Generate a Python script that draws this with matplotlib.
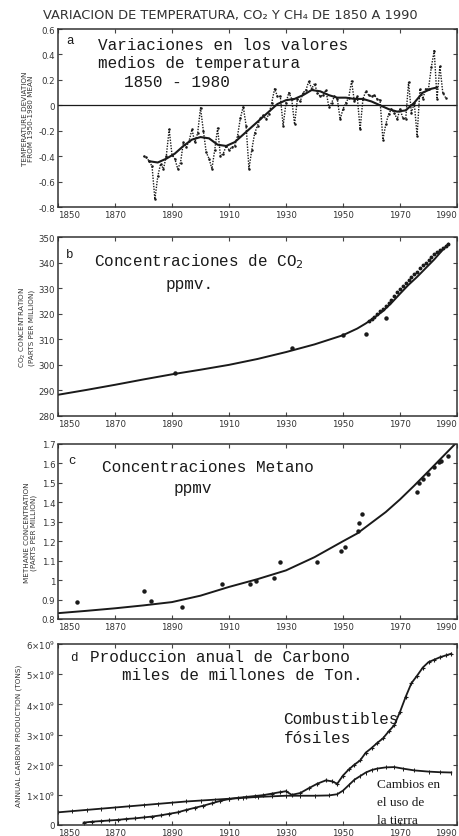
import matplotlib
matplotlib.use("Agg")
import matplotlib.pyplot as plt

# ---------------- data ----------------
years_ticks = [1850, 1870, 1890, 1910, 1930, 1950, 1970, 1990]

# (a) temperature deviation, annual
temp_years = list(range(1880, 1987))
temp_vals = [-0.40, -0.41, -0.44, -0.48, -0.74, -0.56, -0.46, -0.50, -0.40, -0.19,
             -0.39, -0.42, -0.50, -0.45, -0.29, -0.33, -0.28, -0.19, -0.29, -0.22,
             -0.02, -0.20, -0.37, -0.42, -0.50, -0.35, -0.18, -0.40, -0.38, -0.32,
             -0.35, -0.33, -0.32, -0.24, -0.10, -0.01, -0.16, -0.50, -0.35, -0.22,
             -0.16, -0.10, -0.08, -0.11, -0.07, 0.02, 0.13, 0.07, 0.07, -0.16,
             0.02, 0.10, 0.05, -0.15, 0.05, 0.03, 0.10, 0.12, 0.19, 0.13,
             0.17, 0.10, 0.07, 0.08, 0.12, -0.01, 0.02, 0.07, 0.05, -0.11,
             -0.03, 0.02, 0.06, 0.19, 0.03, 0.07, -0.19, 0.05, 0.11, 0.08,
             0.07, 0.08, 0.05, 0.04, -0.27, -0.15, -0.07, -0.03, -0.06, -0.11,
             -0.03, -0.10, -0.11, 0.18, -0.06, 0.02, -0.24, 0.13, 0.05, 0.13,
             0.13, 0.30, 0.43, 0.05, 0.31, 0.10, 0.06]
smooth_years = [1882, 1885, 1888, 1891, 1894, 1897, 1900, 1903, 1906, 1909, 1912, 1915,
                1918, 1921, 1924, 1927, 1930, 1933, 1936, 1939, 1942, 1945, 1948, 1951,
                1954, 1957, 1960, 1963, 1966, 1969, 1972, 1975, 1978, 1981, 1983]
smooth_vals = [-0.44, -0.45, -0.42, -0.38, -0.32, -0.27, -0.25, -0.26, -0.31, -0.32,
               -0.29, -0.23, -0.17, -0.11, -0.05, 0.01, 0.04, 0.05, 0.08, 0.12,
               0.11, 0.08, 0.06, 0.06, 0.05, 0.05, 0.03, 0.00, -0.03, -0.05,
               -0.04, 0.02, 0.10, 0.13, 0.14]

# (b) CO2 concentration (ppmv)
co2_curve_years = [1850, 1860, 1870, 1880, 1890, 1900, 1910, 1920, 1930, 1940, 1945,
                   1950, 1955, 1958, 1961, 1964, 1967, 1970, 1973, 1976, 1979, 1982,
                   1985, 1987]
co2_curve_vals = [288.3, 290.2, 292.2, 294.3, 296.3, 298.1, 300.0, 302.3, 305.0, 308.0,
                  309.8, 311.6, 314.2, 316.2, 318.5, 321.0, 324.2, 327.8, 331.3, 334.4,
                  337.8, 341.2, 345.0, 347.3]
co2_ice_years = [1891, 1932, 1950, 1958, 1965]
co2_ice_vals = [297.0, 306.4, 311.6, 312.0, 318.3]
co2_ml_years = list(range(1959, 1988))
co2_ml_vals = [317.0, 318.0, 318.8, 319.8, 320.9, 322.0, 323.0, 324.3, 325.5, 326.8,
               328.3, 329.8, 330.9, 332.2, 333.3, 334.4, 335.5, 336.5, 337.8, 339.0,
               340.0, 341.2, 342.3, 343.4, 344.3, 345.0, 345.8, 346.6, 347.2]

# (c) methane concentration (ppmv)
ch4_curve_years = [1850, 1860, 1870, 1880, 1890, 1900, 1910, 1920, 1930, 1940,
                   1950, 1955, 1960, 1965, 1970, 1975, 1980, 1985, 1990]
ch4_curve_vals = [0.830, 0.842, 0.855, 0.870, 0.887, 0.920, 0.965, 1.005, 1.050, 1.118,
                  1.200, 1.240, 1.295, 1.350, 1.415, 1.486, 1.560, 1.635, 1.710]
ch4_pts_years = [1856.8, 1880.2, 1882.6, 1893.5, 1907.6, 1917.5, 1919.6, 1925.7, 1927.9,
                 1941.0, 1949.2, 1950.6, 1955.1, 1955.6, 1956.5, 1975.9, 1976.7,
                 1977.9, 1979.7, 1982.0, 1983.8, 1984.4, 1986.7]
ch4_pts_vals = [0.886, 0.942, 0.894, 0.860, 0.980, 0.980, 0.997, 1.009, 1.095,
                1.095, 1.151, 1.172, 1.254, 1.292, 1.340, 1.455, 1.500,
                1.520, 1.545, 1.580, 1.605, 1.612, 1.640]

# (d) annual carbon production (1e9 tons)
fossil_years = [1859, 1862, 1865, 1868, 1871, 1874, 1877, 1880, 1883, 1886, 1889, 1892,
                1895, 1898, 1901, 1904, 1907, 1910, 1913, 1916, 1919, 1922, 1925, 1928,
                1930, 1932, 1935, 1938, 1941, 1944, 1946, 1948, 1950, 1952, 1954, 1956,
                1958, 1960, 1962, 1964, 1966, 1968, 1970, 1972, 1974, 1976, 1978, 1980,
                1982, 1984, 1986, 1988]
fossil_vals = [0.08, 0.11, 0.13, 0.15, 0.17, 0.20, 0.22, 0.25, 0.28, 0.32, 0.37, 0.42,
               0.50, 0.57, 0.64, 0.72, 0.80, 0.86, 0.90, 0.93, 0.96, 0.99, 1.04, 1.09,
               1.12, 1.00, 1.06, 1.22, 1.37, 1.48, 1.45, 1.37, 1.64, 1.84, 2.00, 2.14,
               2.40, 2.55, 2.72, 2.87, 3.10, 3.31, 3.75, 4.25, 4.70, 4.95, 5.22, 5.40,
               5.48, 5.56, 5.62, 5.68]
landuse_years = [1850, 1855, 1860, 1865, 1870, 1875, 1880, 1885, 1890, 1895, 1900, 1905,
                 1910, 1915, 1920, 1925, 1930, 1935, 1940, 1945, 1948, 1950, 1952, 1954,
                 1956, 1958, 1960, 1962, 1965, 1968, 1971, 1975, 1980, 1984, 1988]
landuse_vals = [0.42, 0.46, 0.50, 0.54, 0.58, 0.62, 0.66, 0.70, 0.74, 0.78, 0.81, 0.84,
                0.87, 0.90, 0.93, 0.95, 0.97, 0.97, 0.97, 0.98, 1.02, 1.14, 1.32, 1.50,
                1.62, 1.74, 1.82, 1.87, 1.91, 1.92, 1.87, 1.81, 1.77, 1.75, 1.74]

# ---------------- figure ----------------
W, H = 460, 837
fig = plt.figure(figsize=(W / 100, H / 100), dpi=100)
fig.patch.set_facecolor("white")

INK = "#1a1a1a"
MONO = "Liberation Mono"

def make_ax(top_px, bot_px, left_px=58, right_px=457):
    return fig.add_axes([left_px / W, 1 - bot_px / H, (right_px - left_px) / W,
                         (bot_px - top_px) / H])

def style(ax, ylim, yticks, ylabels, ylabel):
    ax.set_xlim(1850, 1990)
    ax.set_ylim(*ylim)
    ax.set_xticks(years_ticks)
    ax.set_xticklabels([str(y) for y in years_ticks], fontsize=6.2, color="#333333",
                       family="DejaVu Sans")
    labs = ax.get_xticklabels()
    labs[0].set_horizontalalignment("left")
    labs[-1].set_horizontalalignment("right")
    ax.set_yticks(yticks)
    ax.set_yticklabels(ylabels, fontsize=6.2, color="#333333", family="DejaVu Sans")
    ax.tick_params(direction="in", length=3, width=0.8, colors="#444444",
                   top=True, right=True, pad=2)
    ax.tick_params(axis="both", labelcolor="#333333")
    for sp in ax.spines.values():
        sp.set_linestyle((0, (1.5, 1)))
        sp.set_linewidth(1.1)
        sp.set_color("#333333")
    ax.set_ylabel(ylabel, fontsize=5.2, color="#333333", labelpad=3,
                  family="DejaVu Sans", linespacing=1.1)

# title
fig.text(0.5, 1 - 15 / H, "VARIACION DE TEMPERATURA, CO₂ Y CH₄ DE 1850 A 1990",
         ha="center", va="center", fontsize=9.4, color="#333333", family="DejaVu Sans")

# ---- (a)
ax = make_ax(30, 208)
ax.plot(temp_years, temp_vals, linestyle=(0, (1, 1)), color=INK, lw=1.0,
        marker="o", markersize=1.8, markeredgewidth=0)
ax.plot(smooth_years, smooth_vals, color=INK, lw=1.5)
ax.axhline(0, color=INK, lw=0.9)
style(ax, (-0.8, 0.6), [-0.8, -0.6, -0.4, -0.2, 0, 0.2, 0.4, 0.6],
      ["-0.8", "-0.6", "-0.4", "-0.2", "0", "0.2", "0.4", "0.6"],
      "TEMPERATURE DEVIATION\nFROM 1950-1980 MEAN")
ax.text(0.02, 0.94, "a", transform=ax.transAxes, fontsize=9, family=MONO, color=INK,
        va="center")
ax.text(0.10, 0.915, "Variaciones en los valores", transform=ax.transAxes,
        fontsize=11.5, family=MONO, color=INK, va="center")
ax.text(0.10, 0.81, "medios de temperatura", transform=ax.transAxes,
        fontsize=11.5, family=MONO, color=INK, va="center")
ax.text(0.165, 0.705, "1850 - 1980", transform=ax.transAxes,
        fontsize=11.5, family=MONO, color=INK, va="center")

# ---- (b)
ax = make_ax(238, 417)
ax.plot(co2_curve_years, co2_curve_vals, color=INK, lw=1.4)
ax.plot(co2_ice_years, co2_ice_vals, "o", color=INK, markersize=2.2)
ax.plot(co2_ml_years, co2_ml_vals, "o", color=INK, markersize=1.8)
style(ax, (280, 350), list(range(280, 351, 10)), [str(v) for v in range(280, 351, 10)],
      "CO$_2$ CONCENTRATION\n(PARTS PER MILLION)")
ax.text(0.02, 0.905, "b", transform=ax.transAxes, fontsize=9, family=MONO, color=INK,
        va="center")
ax.text(0.09, 0.87, "Concentraciones de CO$_2$", transform=ax.transAxes,
        fontsize=11.5, family=MONO, color=INK, va="center")
ax.text(0.27, 0.74, "ppmv.", transform=ax.transAxes,
        fontsize=11.5, family=MONO, color=INK, va="center")

# ---- (c)
ax = make_ax(445, 620)
ax.plot(ch4_curve_years, ch4_curve_vals, color=INK, lw=1.4)
ax.plot(ch4_pts_years, ch4_pts_vals, "o", color=INK, markersize=2.2)
cticks = [0.8, 0.9, 1.0, 1.1, 1.2, 1.3, 1.4, 1.5, 1.6, 1.7]
style(ax, (0.8, 1.7), cticks, ["0.8", "0.9", "1", "1.1", "1.2", "1.3", "1.4", "1.5",
                               "1.6", "1.7"],
      "METHANE CONCENTRATION\n(PARTS PER MILLION)")
ax.text(0.025, 0.91, "c", transform=ax.transAxes, fontsize=9, family=MONO, color=INK,
        va="center")
ax.text(0.11, 0.87, "Concentraciones Metano", transform=ax.transAxes,
        fontsize=11.5, family=MONO, color=INK, va="center")
ax.text(0.29, 0.75, "ppmv", transform=ax.transAxes,
        fontsize=11.5, family=MONO, color=INK, va="center")

# ---- (d)
ax = make_ax(645, 826)
ax.plot(fossil_years, fossil_vals, color=INK, lw=1.3, marker="+", markersize=3,
        markeredgewidth=0.8)
ax.plot(landuse_years, landuse_vals, color=INK, lw=1.3, marker="|", markersize=2.5,
        markeredgewidth=0.7)
style(ax, (0, 6), [0, 1, 2, 3, 4, 5, 6],
      ["0", "1×10$^9$", "2×10$^9$", "3×10$^9$", "4×10$^9$", "5×10$^9$", "6×10$^9$"],
      "ANNUAL CARBON PRODUCTION (TONS)")
ax.text(0.03, 0.93, "d", transform=ax.transAxes, fontsize=9, family=MONO, color=INK,
        va="center")
ax.text(0.08, 0.93, "Produccion anual de Carbono", transform=ax.transAxes,
        fontsize=11.5, family=MONO, color=INK, va="center")
ax.text(0.16, 0.83, "miles de millones de Ton.", transform=ax.transAxes,
        fontsize=11.5, family=MONO, color=INK, va="center")
ax.text(0.565, 0.59, "Combustibles", transform=ax.transAxes,
        fontsize=11.5, family=MONO, color=INK, va="center")
ax.text(0.565, 0.485, "fósiles", transform=ax.transAxes,
        fontsize=11.5, family=MONO, color=INK, va="center")
for i, t in enumerate(["Cambios en", "el uso de", "la tierra"]):
    ax.text(0.80, 0.225 - i * 0.1, t, transform=ax.transAxes, fontsize=9.5,
            family="Liberation Serif", color=INK, va="center")

fig.savefig("out.png", dpi=100, facecolor="white")
